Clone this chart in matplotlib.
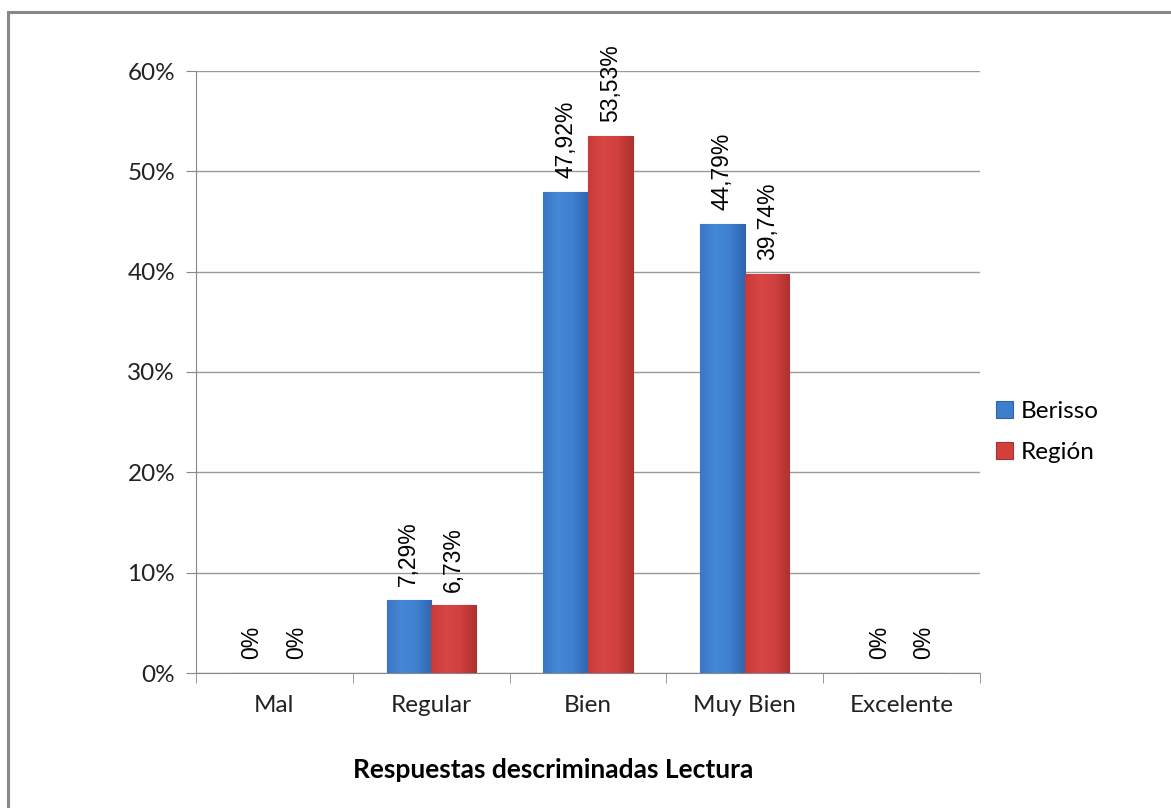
import numpy as np
import matplotlib.pyplot as plt
from matplotlib.patches import Rectangle
from matplotlib.colors import LinearSegmentedColormap
import matplotlib.ticker as mticker

# Datos del gráfico
categorias = ['Mal', 'Regular', 'Bien', 'Muy Bien', 'Excelente']
berisso = [0.0, 7.29, 47.92, 44.79, 0.0]
region = [0.0, 6.73, 53.53, 39.74, 0.0]
etiquetas_berisso = ['0%', '7,29%', '47,92%', '44,79%', '0%']
etiquetas_region = ['0%', '6,73%', '53,53%', '39,74%', '0%']
series = ['Berisso', 'Región']

plt.rcParams['font.family'] = ['Lato', 'DejaVu Sans']

fig = plt.figure(figsize=(11.71, 8.08), dpi=100)
ax = fig.add_axes([196 / 1171, 1 - 673 / 808, (980 - 196) / 1171, (673 - 71) / 808])

# marco exterior
fig.patches.append(Rectangle((8 / 1171, -0.1), 1.2, 1 - 12 / 808 + 0.1,
                             transform=fig.transFigure, fill=False,
                             edgecolor='#878787', linewidth=2.2))

x = np.arange(len(categorias))
ancho = 0.285
azul = '#3E7ECF'
rojo = '#D2403D'

b1 = ax.bar(x - ancho / 2, berisso, ancho, color=azul, edgecolor='#2F63A6',
            linewidth=0.8, label=series[0], zorder=3)
b2 = ax.bar(x + ancho / 2, region, ancho, color=rojo, edgecolor='#A83230',
            linewidth=0.8, label=series[1], zorder=3)

# degradado horizontal para imitar el biselado de Excel
cmap_azul = LinearSegmentedColormap.from_list('az', ['#3A76C4', '#4688D8', '#3F80D0', '#2F66B0'])
cmap_rojo = LinearSegmentedColormap.from_list('ro', ['#C83A38', '#D84644', '#D0403E', '#AE3230'])
grad = np.linspace(0, 1, 64).reshape(1, -1)
for barras, cmap in [(b1, cmap_azul), (b2, cmap_rojo)]:
    for p in barras:
        h = p.get_height()
        if h <= 0:
            continue
        x0 = p.get_x()
        w = p.get_width()
        im = ax.imshow(grad, cmap=cmap, aspect='auto', extent=[x0, x0 + w, 0, h],
                       zorder=3.5, clip_path=p, clip_on=True)
        im.set_clip_path(p)

# etiquetas de datos rotadas
for xs, vals, labs in [(x - ancho / 2, berisso, etiquetas_berisso),
                       (x + ancho / 2, region, etiquetas_region)]:
    for xi, v, t in zip(xs, vals, labs):
        ax.annotate(t, (xi, v), xytext=(0, 10), textcoords='offset points',
                    rotation=90, ha='center', va='bottom', fontsize=16.5,
                    family='Liberation Sans', color='black')

ax.set_xlim(-0.5, len(categorias) - 0.5)
ax.set_ylim(0, 60)
ax.yaxis.set_major_locator(mticker.MultipleLocator(10))
ax.yaxis.set_major_formatter(mticker.FuncFormatter(lambda v, p: f'{v:.0f}%'))
ax.grid(axis='y', color='#999999', linewidth=1, zorder=0)

ax.set_xticks(x)
ax.set_xticklabels(categorias, fontsize=17.5, color='#222222')
ax.set_xticks(np.arange(-0.5, len(categorias)), minor=True)
ax.tick_params(axis='x', which='major', length=0, pad=16)
ax.tick_params(axis='x', which='minor', length=7, color='#888888')
ax.tick_params(axis='y', length=7, color='#888888', labelsize=17.5,
               labelcolor='#222222', pad=8)

for s in ['top', 'right']:
    ax.spines[s].set_visible(False)
for s in ['left', 'bottom']:
    ax.spines[s].set_color('#888888')

ax.legend(loc='center left', bbox_to_anchor=(0.993, 0.40), frameon=False,
          fontsize=17.5, handlelength=0.7, handleheight=0.7,
          handletextpad=0.3, labelspacing=0.8)

fig.text(553 / 1171, 1 - 770 / 808, 'Respuestas descriminadas Lectura',
         ha='center', va='center', fontsize=19, fontweight='bold')

fig.savefig('out.png', dpi=100)
